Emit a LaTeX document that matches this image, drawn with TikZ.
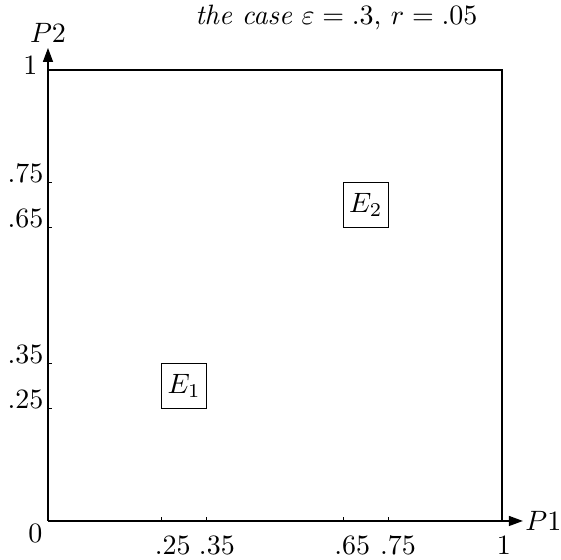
\documentclass[tikz,border=0pt]{standalone}
\usetikzlibrary{arrows.meta}
\begin{document}
\begin{tikzpicture}[x=162.14pt,y=161.07pt,
  axisline/.style={line width=0.4pt,-{Stealth[length=5pt,width=3.6pt,inset=0pt]}},
  frame/.style={line width=0.4pt},
  tickmark/.style={line width=0.4pt},
  ylab/.style={anchor=base east,inner sep=0pt},
  xlab/.style={anchor=base,inner sep=0pt},
  ebox/.style={draw,line width=0.4pt,inner sep=0pt,minimum width=16.21pt,minimum height=16.11pt}]
\useasboundingbox (-0.1057,-0.0865) rectangle (1.1300,1.1552);
\coordinate (O) at (0,0);
\coordinate (xtip) at (1.046,0);
\coordinate (ytip) at (0,1.0488);
\coordinate (c01) at (0,1);
\coordinate (c11) at (1,1);
\coordinate (c10) at (1,0);
\draw[axisline] (O) -- (xtip);
\draw[axisline] (O) -- (ytip);
\draw[frame] (c01) -- (c11) -- (c10);
% ticks
\foreach \v in {.25,.35,.65,.75}{
  \draw[tickmark] (\v,0) -- ++(0,1.4pt);
  \draw[tickmark] (0,\v) -- ++(1.4pt,0);
}
% axis labels
\node[anchor=west,inner sep=0.7pt] (P1) at (xtip) {$P1$};
\node[anchor=base,inner sep=0pt] (P2) at (0,1.0599) {$P2$};
\node[anchor=base east,inner sep=0pt] (y1) at (-0.022,0.9889) {$1$};
\node[anchor=base east,inner sep=0pt] (zero) at (-0.011,-0.0488) {$0$};
% y tick labels
\node[ylab] (y75) at (-0.009,.75) {$.75$};
\node[ylab] (y65) at (-0.009,.65) {$.65$};
\node[ylab] (y35) at (-0.009,.35) {$.35$};
\node[ylab] (y25) at (-0.009,.25) {$.25$};
% x tick labels
\node[xlab] (x25) at (0.275,-0.0754) {$.25$};
\node[xlab] (x35) at (0.372,-0.0754) {$.35$};
\node[xlab] (x65) at (0.670,-0.0754) {$.65$};
\node[xlab] (x75) at (0.771,-0.0754) {$.75$};
\node[xlab] (x1) at (1.004,-0.0754) {$1$};
% title
\node[anchor=base east,inner sep=0pt] (title) at (0.947,1.0998) {\textit{the case} $\varepsilon=.3$, $r=.05$};
% equilibria
\node[ebox] (E1) at (.3,.3) {$E_1$};
\node[ebox] (E2) at (.7,.7) {$E_2$};
\end{tikzpicture}
\end{document}
